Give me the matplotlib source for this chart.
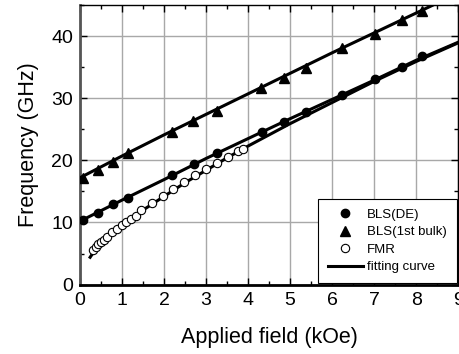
import numpy as np
import matplotlib
matplotlib.use("Agg")
import matplotlib.pyplot as plt
from matplotlib.ticker import MultipleLocator

plt.rcParams['font.family'] = ['Liberation Sans', 'DejaVu Sans']

# BLS Damon-Eshbach mode
de_field = [0.08, 0.42, 0.78, 1.13, 2.2, 2.72, 3.25, 4.32, 4.85, 5.38, 6.24, 7.02, 7.66, 8.15]
de_freq = [10.4, 11.6, 12.9, 14.0, 17.6, 19.4, 21.1, 24.6, 26.1, 27.8, 30.5, 33.1, 35.0, 36.8]

# BLS 1st bulk mode
bulk_field = [0.08, 0.43, 0.79, 1.15, 2.18, 2.70, 3.25, 4.30, 4.85, 5.38, 6.24, 7.02, 7.66, 8.15]
bulk_freq = [17.1, 18.5, 19.8, 21.2, 24.5, 26.3, 28.0, 31.6, 33.2, 34.9, 38.1, 40.4, 42.6, 44.0]

# FMR
fmr_field = [0.31, 0.37, 0.43, 0.50, 0.56, 0.63, 0.77, 0.87, 0.99, 1.10, 1.22, 1.34,
             1.46, 1.72, 1.97, 2.22, 2.48, 2.74, 3.00, 3.25, 3.51, 3.76, 3.88]
fmr_freq = [5.5, 6.0, 6.5, 6.9, 7.2, 7.7, 8.5, 9.0, 9.6, 10.0, 10.5, 11.1,
            12.0, 13.1, 14.3, 15.4, 16.5, 17.6, 18.6, 19.6, 20.5, 21.5, 21.9]

# fitting curves
fit_de_x = [0, 1, 2, 3, 4, 5, 6, 7, 8, 9]
fit_de_y = [10.2, 13.6, 16.9, 20.3, 23.5, 26.7, 29.8, 32.9, 36.1, 39.0]
fit_bulk_x = [0, 1, 2, 3, 4, 5, 6, 7, 8, 8.5]
fit_bulk_y = [17.2, 20.7, 24.1, 27.4, 30.7, 34.0, 37.3, 40.5, 43.7, 45.3]
fit_fmr_x = [0.24, 0.3, 0.4, 0.5, 0.6, 0.8, 1.0, 1.25, 1.5, 2.0, 2.5, 3.0, 3.5, 4.0, 5.0, 6.0, 7.0, 8.0, 9.0]
fit_fmr_y = [4.4, 5.0, 5.9, 6.7, 7.3, 8.5, 9.6, 10.8, 12.0, 14.2, 16.4, 18.4, 20.4, 22.3, 25.9, 29.3, 32.7, 35.9, 38.9]

fig = plt.figure(figsize=(4.6, 3.54), dpi=100)
ax = fig.add_axes([0.174, 0.196, 0.822, 0.79])

ax.plot(fit_de_x, fit_de_y, color='black', lw=2.2, zorder=3)
ax.plot(fit_bulk_x, fit_bulk_y, color='black', lw=2.2, zorder=3)
ax.plot(fit_fmr_x, fit_fmr_y, color='black', lw=2.2, zorder=3)

ax.plot(de_field, de_freq, 'o', color='black', ms=6, zorder=4, label='BLS(DE)')
ax.plot(bulk_field, bulk_freq, '^', color='black', ms=7, zorder=4, label='BLS(1st bulk)')
ax.plot(fmr_field, fmr_freq, 'o', mfc='white', mec='black', mew=0.8, ms=6, zorder=4, label='FMR')
ax.plot([], [], color='black', lw=2.2, label='fitting curve')

ax.set_xlim(0, 9)
ax.set_ylim(0, 45)
ax.xaxis.set_major_locator(MultipleLocator(1))
ax.xaxis.set_minor_locator(MultipleLocator(0.5))
ax.yaxis.set_major_locator(MultipleLocator(10))
ax.yaxis.set_minor_locator(MultipleLocator(5))
ax.grid(True, which='major', color='#a8a8a8', lw=1.0, zorder=0)
ax.set_axisbelow(True)

ax.tick_params(which='both', direction='in', top=True, right=True, labelsize=14)
ax.tick_params(axis='x', pad=5)
ax.tick_params(axis='y', pad=5)
ax.tick_params(which='major', length=5, width=1)
ax.tick_params(which='minor', length=3, width=1)

ax.spines['left'].set_linewidth(2)
ax.spines['left'].set_color('#555555')
ax.spines['bottom'].set_linewidth(2)
for s in ['top', 'right']:
    ax.spines[s].set_linewidth(1)

ax.set_xlabel('Applied field (kOe)', fontsize=15.5, labelpad=13)
ax.set_ylabel('Frequency (GHz)', fontsize=15.5, labelpad=9)

leg = ax.legend(loc='lower right', fontsize=9.5, frameon=True, fancybox=False,
                edgecolor='black', framealpha=1, borderpad=0.75, handlelength=2.7,
                handletextpad=0.3, labelspacing=0.4, borderaxespad=0.1,
                bbox_to_anchor=(1.0, 0.0))
leg.get_frame().set_linewidth(0.8)

fig.savefig('out.png', dpi=100)
